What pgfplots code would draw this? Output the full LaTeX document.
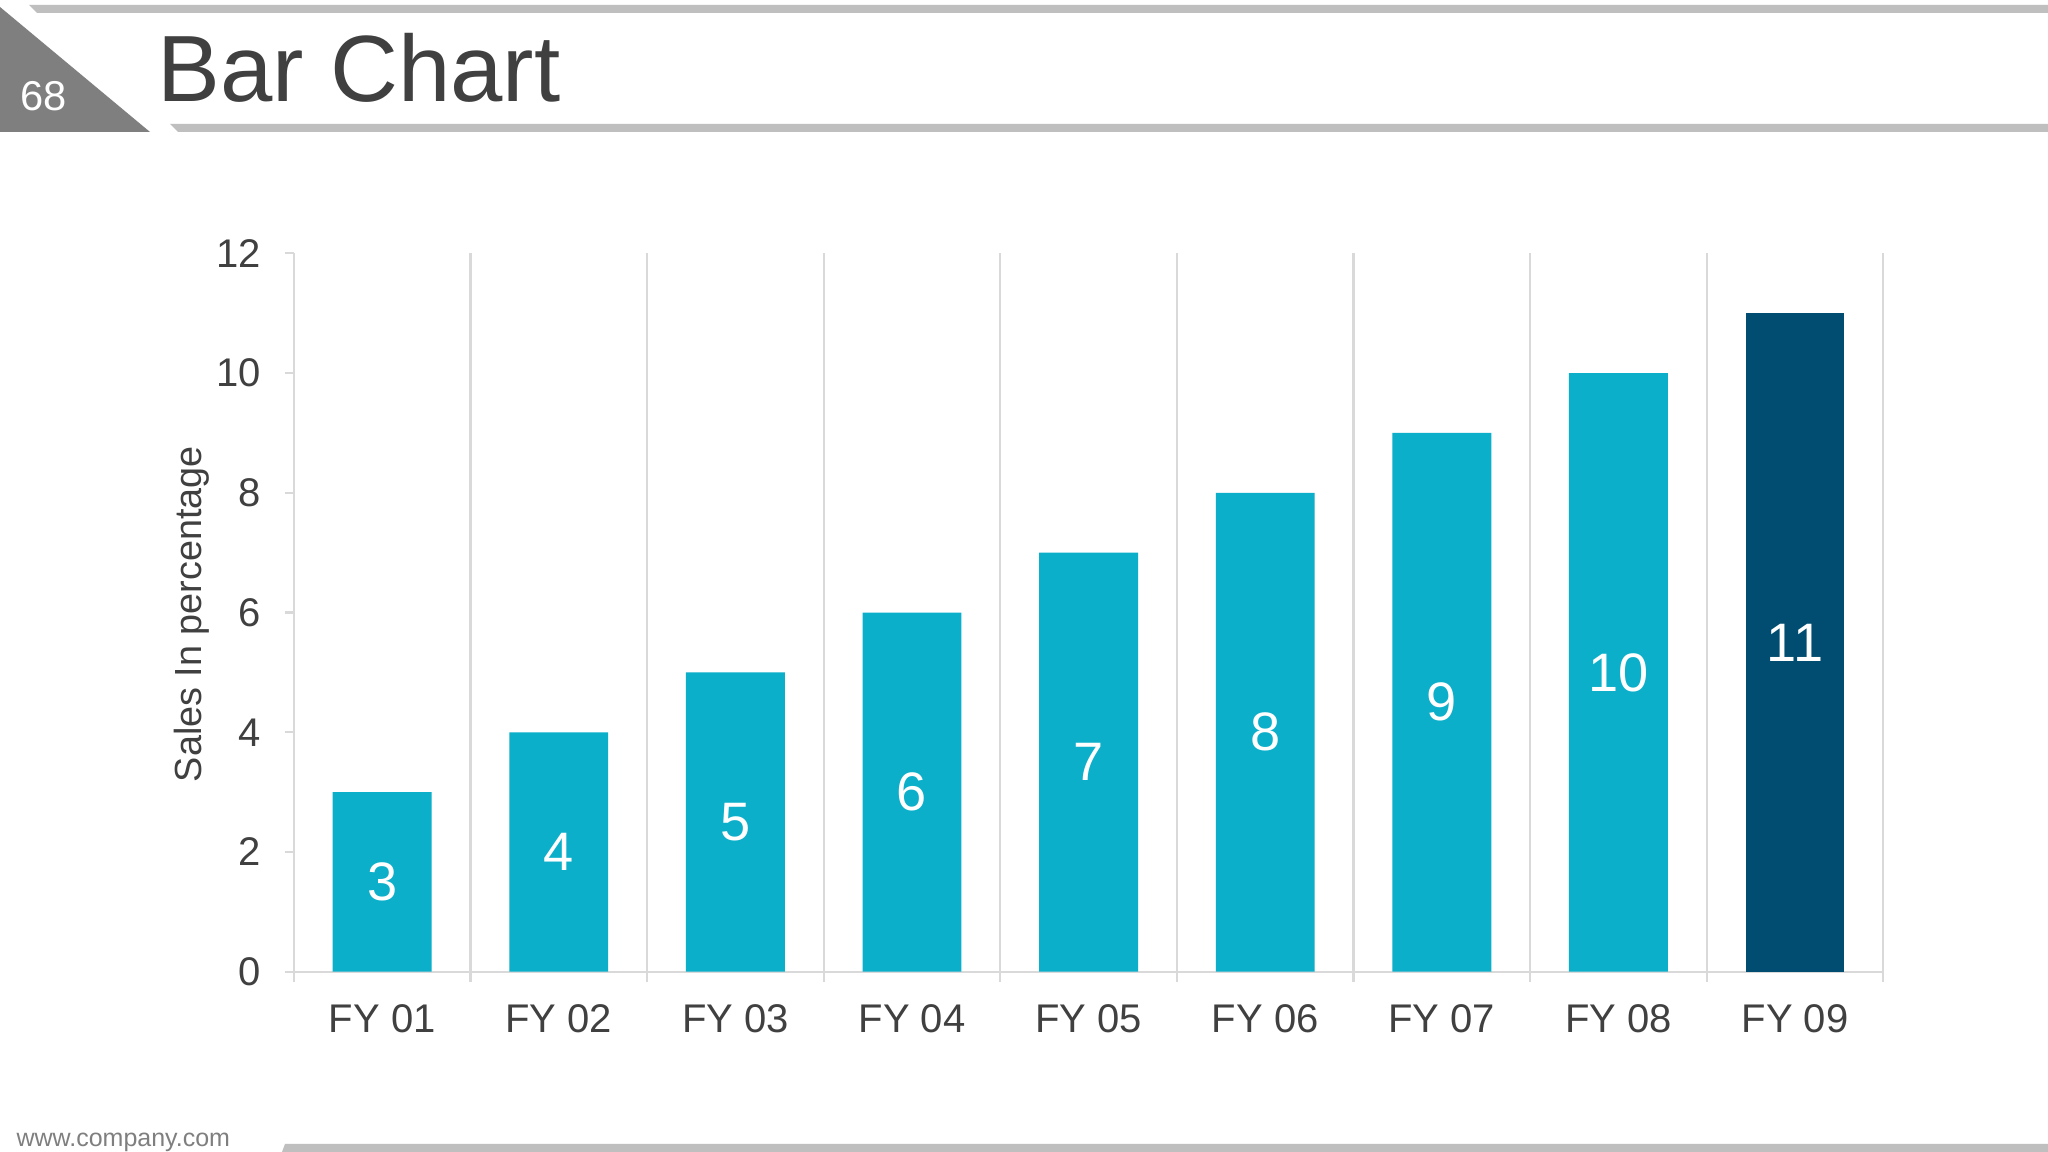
\documentclass[border=0pt]{standalone}
\usepackage{pgfplots}
\pgfplotsset{compat=1.18}
\usepackage{fontspec}
\setmainfont{Liberation Sans}
\definecolor{barcyan}{HTML}{0BAFCA}
\definecolor{bardark}{HTML}{004D71}
\definecolor{txtgray}{HTML}{404040}
\definecolor{gridgray}{HTML}{D9D9D9}
\definecolor{bandgray}{HTML}{BFBFBF}
\definecolor{trigray}{HTML}{7F7F7F}

\begin{document}
\begin{tikzpicture}
% slide frame, in pixels of the 2048x1152 reference, y pointing down
\begin{scope}[x=0.36pt, y=-0.36pt, yshift=414.72pt]
\useasboundingbox (0,0) rectangle (2048,1152);
\fill[white] (0,0) rectangle (2048,1152);
\fill[bandgray] (29,5) -- (2048,5) -- (2048,13) -- (37,13) -- cycle;
\fill[trigray] (0,7) -- (150,132) -- (0,132) -- cycle;
\fill[bandgray] (170,124) -- (2048,124) -- (2048,132) -- (178,132) -- cycle;
\fill[bandgray] (285,1144) -- (2048,1144) -- (2048,1152) -- (282,1152) -- cycle;
\node[anchor=base west, inner sep=0, text=txtgray, font=\fontsize{33.9}{40}\selectfont] at (157,102) {Bar Chart};
\node[text=white, font=\fontsize{15}{18}\selectfont] at (44,96) {68};
\node[anchor=west, inner sep=0, text=trigray, font=\fontsize{9}{11}\selectfont] at (16,1142) {www.company.com};
\node[rotate=90, text=txtgray, font=\fontsize{13.6}{16}\selectfont] at (192,614) {Sales In percentage};
\end{scope}

\begin{axis}[
  at={(105.8pt,64.9pt)}, anchor=south west,
  scale only axis, width=572.2pt, height=258.6pt,
  xmin=0.5, xmax=9.5, ymin=0, ymax=12,
  axis x line*=bottom, axis y line*=left,
  axis line style={gridgray, line width=0.8pt},
  xtick={1,...,9},
  xticklabels={FY 01,FY 02,FY 03,FY 04,FY 05,FY 06,FY 07,FY 08,FY 09},
  major x tick style={draw=none},
  minor xtick={0.5,1.5,...,9.5},
  minor x tick style={gridgray, line width=0.8pt},
  minor tick length=3.6pt,
  xminorgrids=true,
  minor x grid style={gridgray, line width=0.8pt},
  tick align=outside,
  ytick={0,2,...,12},
  y tick style={gridgray, line width=0.8pt},
  major tick length=3.3pt,
  ticklabel style={text=txtgray, font=\fontsize{14.4}{17}\selectfont},
  /pgf/number format/assume math mode=true,
  xticklabel style={yshift=-5pt},
  yticklabel style={xshift=-5pt},
  ybar, bar width=0.56,
  nodes near coords,
  visualization depends on=rawy \as \rawy,
  every node near coord/.append style={text=white, anchor=center,
    font=\fontsize{19.5}{22}\selectfont,
    shift={(axis direction cs:0,-\rawy/2)}},
]
\addplot[fill=barcyan, draw=none, bar shift=0pt] coordinates {
  (1,3) (2,4) (3,5) (4,6) (5,7) (6,8) (7,9) (8,10)};
\addplot[fill=bardark, draw=none, bar shift=0pt] coordinates {(9,11)};
\end{axis}
\end{tikzpicture}
\end{document}
